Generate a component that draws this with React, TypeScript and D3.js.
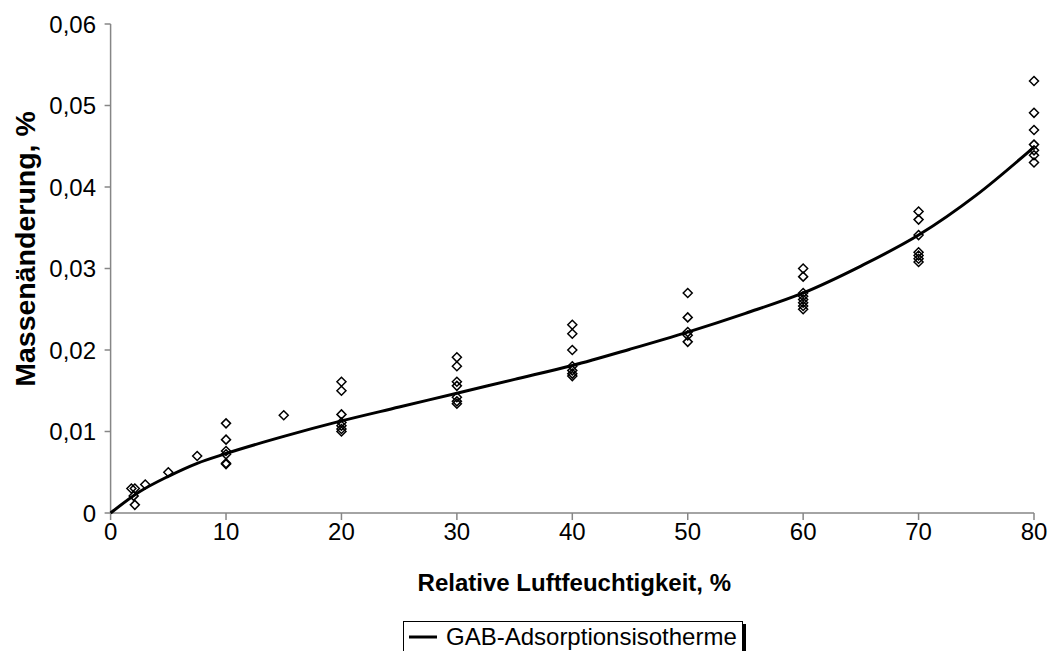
import React from "react";
import * as d3 from "d3";

// Measured points: relative humidity (%) and mass change (%)
const measRh = [
  1.8, 2.1, 2.0, 2.1, 3, 5, 7.5,
  10, 10, 10, 10, 10, 10,
  15,
  20, 20, 20, 20, 20, 20, 20,
  30, 30, 30, 30, 30, 30, 30,
  40, 40, 40, 40, 40, 40, 40,
  50, 50, 50, 50, 50,
  60, 60, 60, 60, 60, 60, 60, 60,
  70, 70, 70, 70, 70, 70, 70,
  80, 80, 80, 80, 80, 80, 80,
];
const measMass = [
  0.003, 0.003, 0.0021, 0.001, 0.0035, 0.005, 0.007,
  0.011, 0.009, 0.0076, 0.0072, 0.0061, 0.006,
  0.012,
  0.0161, 0.015, 0.0121, 0.0111, 0.0107, 0.0103, 0.01,
  0.0191, 0.018, 0.0161, 0.0156, 0.0142, 0.0137, 0.0134,
  0.0231, 0.022, 0.02, 0.018, 0.0175, 0.0171, 0.0168,
  0.027, 0.024, 0.0222, 0.0218, 0.021,
  0.03, 0.029, 0.027, 0.0266, 0.0262, 0.0258, 0.0254, 0.025,
  0.037, 0.036, 0.0341, 0.032, 0.0316, 0.0312, 0.0308,
  0.053, 0.0491, 0.047, 0.0452, 0.0445, 0.0439, 0.043,
];

// GAB adsorption isotherm curve
const gabRh = [0, 2.5, 5, 7.5, 10, 15, 20, 25, 30, 35, 40, 45, 50, 55, 60, 65, 70, 75, 80];
const gabMass = [
  0, 0.0026, 0.0045, 0.0061, 0.0073, 0.0094, 0.0113, 0.013, 0.0147, 0.0164, 0.0181,
  0.0201, 0.0222, 0.0245, 0.027, 0.0303, 0.0341, 0.039, 0.0449,
];

const xTicks = [0, 10, 20, 30, 40, 50, 60, 70, 80];
const yTicks = [0, 0.01, 0.02, 0.03, 0.04, 0.05, 0.06];

const xTitle = "Relative Luftfeuchtigkeit, %";
const yTitle = "Massenänderung, %";
const legendLabel = "GAB-Adsorptionsisotherme";

const FONT = "Arial, 'Liberation Sans', sans-serif";
const AXIS = "#868686";

export default function App() {
  const x = d3.scaleLinear().domain([0, 80]).range([110.6, 1034]);
  const y = d3.scaleLinear().domain([0, 0.06]).range([513, 24]);
  const fmtY = (v: number) => (v === 0 ? "0" : v.toFixed(2).replace(".", ","));

  const line = d3
    .line<number>()
    .x((_, i) => x(gabRh[i]))
    .y((d) => y(d))
    .curve(d3.curveMonotoneX);

  const x0 = x(0);
  const x1 = x(80);
  const y0 = y(0);
  const yTop = y(0.06);
  const r = 4.5;

  return (
    <svg
      width={1051}
      height={651}
      style={{ position: "absolute", left: 0, top: 0, display: "block", background: "#fff" }}
      fontFamily={FONT}
    >
      <rect width={1051} height={651} fill="#fff" />
      {/* axes */}
      <line x1={x0} x2={x0} y1={yTop} y2={y0} stroke={AXIS} strokeWidth={1.5} />
      <line x1={x0} x2={x1} y1={y0} y2={y0} stroke={AXIS} strokeWidth={1.5} />
      {yTicks.map((t) => (
        <g key={"y" + t}>
          <line x1={x0 - 6} x2={x0} y1={y(t)} y2={y(t)} stroke={AXIS} strokeWidth={1.5} />
          <text x={96} y={y(t) + 8.5} textAnchor="end" fontSize={24} fill="#000">
            {fmtY(t)}
          </text>
        </g>
      ))}
      {xTicks.map((t) => (
        <g key={"x" + t}>
          <line x1={x(t)} x2={x(t)} y1={y0} y2={y0 + 7} stroke={AXIS} strokeWidth={1.5} />
          <text x={x(t)} y={540} textAnchor="middle" fontSize={24} fill="#000">
            {t}
          </text>
        </g>
      ))}
      {/* titles */}
      <text x={(x0 + x1) / 2 + 2} y={591} textAnchor="middle" fontSize={24} fontWeight="bold">
        {xTitle}
      </text>
      <text
        transform={`translate(35, 249) rotate(-90)`}
        textAnchor="middle"
        fontSize={28.5}
        fontWeight="bold"
      >
        {yTitle}
      </text>
      {/* curve */}
      <path d={line(gabMass) || ""} fill="none" stroke="#000" strokeWidth={3} />
      {/* points */}
      {measRh.map((rh, i) => {
        const cx = x(rh);
        const cy = y(measMass[i]);
        return (
          <path
            key={"p" + i}
            d={`M${cx},${cy - r}L${cx + r},${cy}L${cx},${cy + r}L${cx - r},${cy}Z`}
            fill="none"
            stroke="#000"
            strokeWidth={1.5}
          />
        );
      })}
      {/* legend */}
      <rect x={406} y={624} width={340} height={36} fill="#000" />
      <rect x={403.5} y={621.5} width={339} height={36} fill="#fff" stroke="#000" strokeWidth={1} />
      <line x1={409} x2={437} y1={637} y2={637} stroke="#000" strokeWidth={3} />
      <text x={446} y={645} fontSize={24} fill="#000">
        {legendLabel}
      </text>
    </svg>
  );
}
